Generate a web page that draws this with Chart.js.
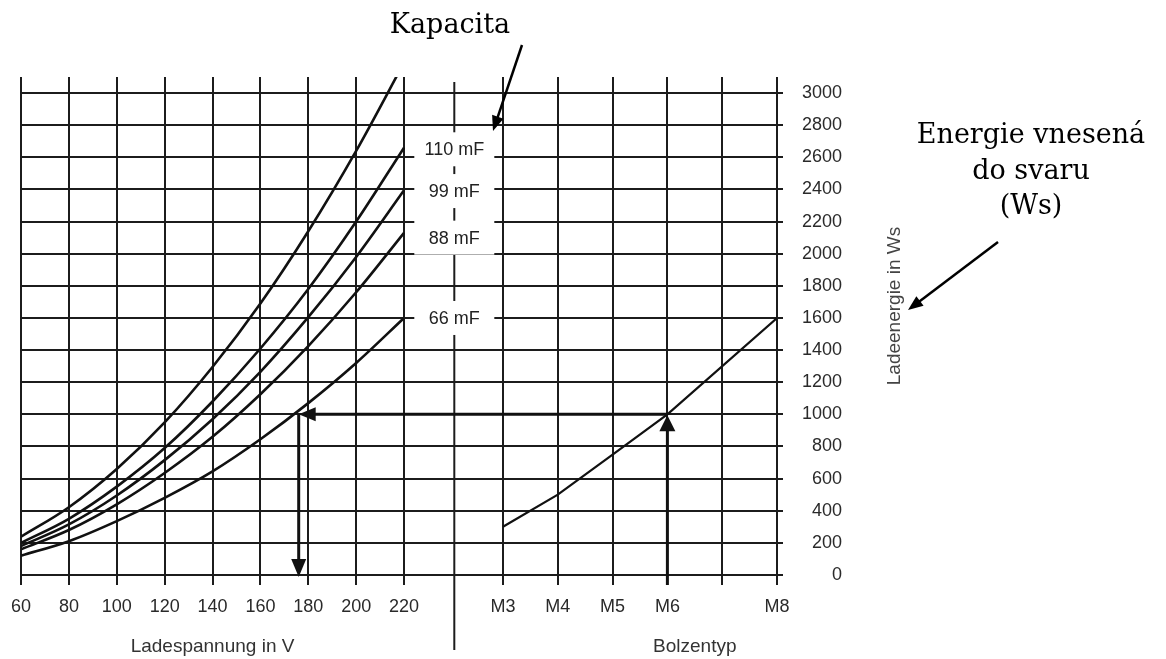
<!DOCTYPE html>
<html>
<head>
<meta charset="utf-8">
<script src="https://cdn.jsdelivr.net/npm/chart.js@4.4.1/dist/chart.umd.min.js"></script>
<style>
  html, body { margin: 0; padding: 0; background: #fff; }
  canvas { display: block; }
</style>
</head>
<body>
<canvas id="chart" width="1166" height="659"></canvas>
<script>
// Ladespannung in V (left part of the x axis)
const voltages = [60, 80, 100, 120, 140, 160, 180, 200, 220];

// Ladeenergie in Ws, one curve per capacitance
const energy132 = [238, 422, 660, 950, 1295, 1690, 2140, 2640, 3190];
const energy110 = [200, 350, 550, 790, 1080, 1410, 1780, 2200, 2660];
const energy99 = [180, 315, 495, 715, 970, 1265, 1605, 1980, 2395];
const energy88 = [160, 280, 440, 635, 860, 1125, 1425, 1760, 2130];
const energy66 = [120, 210, 335, 480, 645, 845, 1070, 1320, 1600];

const capLabels = ['110 mF', '99 mF', '88 mF', '66 mF'];
const capLabelEnergy = [2650, 2390, 2100, 1600];

// Bolzentyp (right part of the x axis)
const boltTicks = [3, 4, 5, 6, 7, 8];
const boltLabels = ['M3', 'M4', 'M5', 'M6', '', 'M8'];
const boltLinePos = [3, 4, 5, 6, 8];
const boltEnergy = [300, 500, 750, 1000, 1600];

const energyTicks = [0, 200, 400, 600, 800, 1000, 1200, 1400, 1600, 1800, 2000, 2200, 2400, 2600, 2800, 3000];

// example reading drawn with arrows: 1000 Ws -> M6 -> 176 V on the 66 mF curve
const exampleEnergy = 1000;
const exampleVoltage = 176;
const exampleBolt = 6;

const INK = '#1c1c1c';
const SANS = '"Liberation Sans", Arial, sans-serif';
const SERIF = '"DejaVu Serif", Georgia, serif';

function curve(values) {
    return {
        data: voltages.map((v, i) => ({ x: v, y: values[i] })),
        xAxisID: 'x',
        borderColor: '#111',
        borderWidth: 2.6,
        pointRadius: 0,
        cubicInterpolationMode: 'monotone',
        fill: false
    };
}

function arrow(ctx, x1, y1, x2, y2, len, half) {
    const a = Math.atan2(y2 - y1, x2 - x1);
    const c = Math.cos(a), s = Math.sin(a);
    ctx.beginPath();
    ctx.moveTo(x1, y1);
    ctx.lineTo(x2 - c * len * 0.7, y2 - s * len * 0.7);
    ctx.stroke();
    ctx.beginPath();
    ctx.moveTo(x2, y2);
    ctx.lineTo(x2 - c * len + s * half, y2 - s * len - c * half);
    ctx.lineTo(x2 - c * len - s * half, y2 - s * len + c * half);
    ctx.closePath();
    ctx.fill();
}

const extras = {
    id: 'extras',
    afterDraw(chart) {
        const ctx = chart.ctx;
        const x = chart.scales.x, x2 = chart.scales.x2, y = chart.scales.y;
        ctx.save();

        // divider between the two x parts
        const divX = x.getPixelForValue(241);
        ctx.strokeStyle = INK;
        ctx.lineWidth = 2;
        ctx.beginPath();
        ctx.moveTo(divX, 82);
        ctx.lineTo(divX, 650);
        ctx.stroke();

        // capacitance labels on white boxes
        ctx.font = '18px ' + SANS;
        ctx.textAlign = 'center';
        ctx.textBaseline = 'middle';
        capLabels.forEach((t, i) => {
            const cy = y.getPixelForValue(capLabelEnergy[i]);
            ctx.fillStyle = '#fff';
            ctx.fillRect(divX - 40, cy - 17, 80, 34);
            ctx.fillStyle = '#222';
            ctx.fillText(t, divX, cy + 1);
        });

        // reading arrows
        ctx.strokeStyle = '#111';
        ctx.fillStyle = '#111';
        ctx.lineWidth = 3;
        const ey = y.getPixelForValue(exampleEnergy);
        const bx = x2.getPixelForValue(exampleBolt);
        const vx = x.getPixelForValue(exampleVoltage);
        const y0 = y.getPixelForValue(0);
        arrow(ctx, bx, ey, vx, ey, 17, 7);
        arrow(ctx, vx, ey, vx, y0 + 2, 18, 7.5);
        arrow(ctx, bx, y0 + 10, bx, ey + 1, 16, 8);

        // axis titles
        ctx.fillStyle = '#333';
        ctx.font = '19px ' + SANS;
        ctx.textAlign = 'center';
        ctx.textBaseline = 'middle';
        ctx.fillText('Ladespannung in V', x.getPixelForValue(140), 647);
        ctx.fillText('Bolzentyp', x2.getPixelForValue(6.5), 647);
        ctx.save();
        ctx.translate(895, 306);
        ctx.rotate(-Math.PI / 2);
        ctx.fillStyle = '#444';
        ctx.fillText('Ladeenergie in Ws', 0, 0);
        ctx.restore();

        // callouts
        ctx.fillStyle = '#000';
        ctx.strokeStyle = '#000';
        ctx.lineWidth = 2.5;
        ctx.font = '27px ' + SERIF;
        ctx.textBaseline = 'alphabetic';
        ctx.fillText('Kapacita', 450, 33);
        arrow(ctx, 522, 45, 493, 131, 15, 6);
        ctx.fillText('Energie vnesená', 1031, 143);
        ctx.fillText('do svaru', 1031, 179);
        ctx.fillText('(Ws)', 1031, 214);
        arrow(ctx, 998, 242, 908, 310, 15, 6);

        ctx.restore();
    }
};

const gridStyle = { color: INK, lineWidth: 2, tickLength: 10, tickColor: INK, tickWidth: 2 };

new Chart(document.getElementById('chart'), {
    type: 'line',
    data: {
        datasets: [
            curve(energy132),
            curve(energy110),
            curve(energy99),
            curve(energy88),
            curve(energy66),
            {
                data: boltLinePos.map((b, i) => ({ x: b, y: boltEnergy[i] })),
                xAxisID: 'x2',
                borderColor: '#111',
                borderWidth: 2.2,
                pointRadius: 0,
                tension: 0,
                fill: false
            }
        ]
    },
    options: {
        responsive: false,
        animation: false,
        devicePixelRatio: 1,
        events: [],
        layout: { padding: { left: 21, top: 77, right: 324, bottom: 0 } },
        plugins: { legend: { display: false }, tooltip: { enabled: false } },
        scales: {
            x: {
                type: 'linear',
                position: 'bottom',
                min: 60,
                max: 375.8,
                afterBuildTicks: s => { s.ticks = voltages.map(v => ({ value: v })); },
                afterFit: s => { s.height = 84; },
                ticks: { autoSkip: false, maxRotation: 0, padding: 11, color: '#2a2a2a', font: { family: SANS, size: 18 } },
                grid: gridStyle,
                border: { display: false }
            },
            x2: {
                type: 'linear',
                axis: 'x',
                position: { y: 0 },
                min: -5.795,
                max: 8,
                afterBuildTicks: s => { s.ticks = boltTicks.map(v => ({ value: v })); },
                ticks: {
                    autoSkip: false, maxRotation: 0, padding: 11, color: '#2a2a2a', font: { family: SANS, size: 18 },
                    callback: v => boltLabels[boltTicks.indexOf(v)]
                },
                grid: gridStyle,
                border: { display: false }
            },
            y: {
                type: 'linear',
                position: 'right',
                min: 0,
                max: 3100,
                afterBuildTicks: s => { s.ticks = energyTicks.map(v => ({ value: v })); },
                afterFit: s => { s.width = 65; },
                ticks: {
                    padding: 19, crossAlign: 'far', color: '#2a2a2a', font: { family: SANS, size: 18 },
                    callback: v => String(v)
                },
                grid: { color: INK, lineWidth: 2, tickLength: 6, tickColor: INK, tickWidth: 2 },
                border: { display: false }
            }
        }
    },
    plugins: [extras]
});
</script>
</body>
</html>
